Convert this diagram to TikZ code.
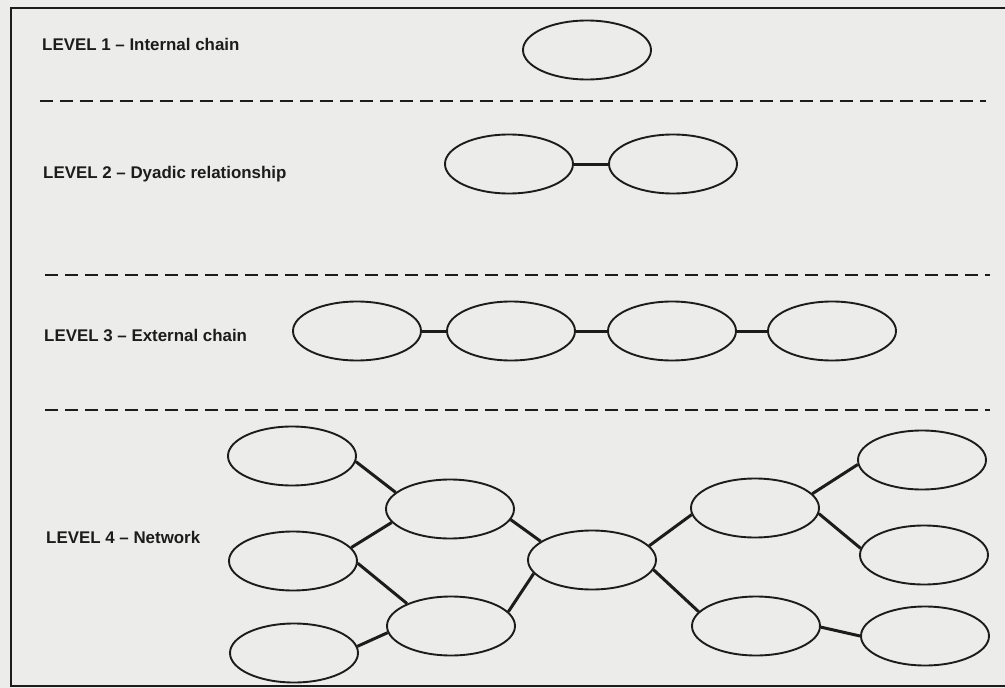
\documentclass[tikz,border=0pt]{standalone}
\usepackage{fontspec}
\setmainfont{Liberation Sans}
\usetikzlibrary{shapes.geometric}
\definecolor{paper}{RGB}{236,236,234}
\definecolor{ink}{RGB}{28,28,28}
\begin{document}
\begin{tikzpicture}[x=1pt,y=-1pt,
  oval/.style={ellipse,draw=ink,line width=1.9pt,minimum width=128pt,minimum height=59pt,inner sep=0pt},
  link/.style={draw=ink,line width=3pt},
  sepline/.style={draw=ink,line width=1.6pt,dash pattern=on 13pt off 7pt},
  borderline/.style={draw=ink,line width=1.8pt},
  lab/.style={anchor=base west,inner sep=0pt,font=\bfseries\fontsize{16.9}{20}\selectfont,text=ink}]
\fill[paper] (0,0) rectangle (1005,688);
\useasboundingbox (0,0) rectangle (1005,688);
% frame
\coordinate (f1) at (1005,8);
\coordinate (f2) at (11,8);
\coordinate (f3) at (11,686);
\coordinate (f4) at (1005,686);
\draw[borderline] (f1) -- (f2) -- (f3) -- (f4);
% separators
\coordinate (s1a) at (40,101);  \coordinate (s1b) at (986,101);
\coordinate (s2a) at (45,275);  \coordinate (s2b) at (990,275);
\coordinate (s3a) at (45,410);  \coordinate (s3b) at (990,410);
\draw[sepline] (s1a) -- (s1b);
\draw[sepline] (s2a) -- (s2b);
\draw[sepline] (s3a) -- (s3b);
% labels
\node[lab] (lab1) at (42,50) {LEVEL 1 -- Internal chain};
\node[lab] (lab2) at (43,178) {LEVEL 2 -- Dyadic relationship};
\node[lab] (lab3) at (44,341) {LEVEL 3 -- External chain};
\node[lab] (lab4) at (46,543) {LEVEL 4 -- Network};
% level 1
\node[oval] (l1) at (587,50) {};
% level 2
\node[oval] (l2a) at (509,164) {};
\node[oval] (l2b) at (673,164) {};
\draw[link] (l2a.east) -- (l2b.west);
% level 3
\node[oval] (l3a) at (357,331) {};
\node[oval] (l3b) at (511,331) {};
\node[oval] (l3c) at (672,331) {};
\node[oval] (l3d) at (832,331) {};
\draw[link] (l3a.east) -- (l3b.west);
\draw[link] (l3b.east) -- (l3c.west);
\draw[link] (l3c.east) -- (l3d.west);
% level 4
\node[oval] (A) at (292,456) {};
\node[oval] (B) at (293,561) {};
\node[oval] (C) at (294,653) {};
\node[oval] (D) at (450,509) {};
\node[oval] (E) at (451,626) {};
\node[oval] (F) at (592,560) {};
\node[oval] (G) at (755,508) {};
\node[oval] (H) at (756,626) {};
\node[oval] (I) at (922,460) {};
\node[oval] (J) at (924,555) {};
\node[oval] (K) at (925,636) {};
\draw[link] (A.-5) -- (D.163);
\draw[link] (B.13) -- (D.-167);
\draw[link] (B.-2) -- (E.153);
\draw[link] (C.6) -- (E.-174);
\draw[link] (D.-10) -- (F.160);
\draw[link] (E.14) -- (F.-167);
\draw[link] (F.14) -- (G.-174);
\draw[link] (F.-9) -- (H.166);
\draw[link] (G.14) -- (I.-176);
\draw[link] (G.-5) -- (J.174);
\draw[link] (H.-1) -- (K.180);
\end{tikzpicture}
\end{document}
